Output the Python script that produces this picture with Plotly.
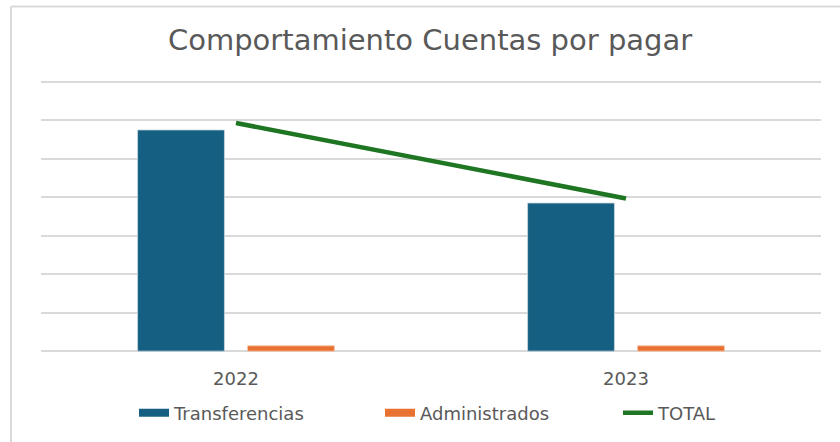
import plotly.graph_objects as go

categories = ["2022", "2023"]
transferencias = [5.75, 3.85]
administrados = [0.14, 0.14]
total = [5.93, 3.97]

W, H = 840, 442
UNIT = 38.5          # px per gridline step
PAD = 0.1            # extra range so edge gridlines are drawn
ml, mr = 41, 19
mt = round(82 - PAD * UNIT)
mb = round(H - (351.5 + PAD * UNIT))
pw = W - ml - mr
ph = H - mt - mb

def px_x(px):
    return (px - ml) / pw

def px_y(py):
    return (H - mb - py) / ph

C_T, C_A, C_TOT = "#156082", "#E97132", "#1E7522"
FONT = "DejaVu Sans"
GREY = "#595959"

fig = go.Figure()
fig.add_trace(go.Bar(x=categories, y=transferencias, name="Transferencias", showlegend=False,
                     marker=dict(color=C_T, line=dict(color="#c9d7e0", width=0.8))))
fig.add_trace(go.Bar(x=categories, y=administrados, name="Administrados", showlegend=False,
                     marker=dict(color=C_A, line=dict(color="#f6c9b0", width=0.8))))
fig.add_trace(go.Scatter(x=categories, y=total, name="TOTAL", mode="lines",
                         line=dict(color=C_TOT, width=4.5), legend="legend3"))
# legend keys for the bar series (wide rectangles like the original)
fig.add_trace(go.Scatter(x=[None], y=[None], name="Transferencias", mode="lines",
                         line=dict(color=C_T, width=8), legend="legend"))
fig.add_trace(go.Scatter(x=[None], y=[None], name="Administrados", mode="lines",
                         line=dict(color=C_A, width=8), legend="legend2"))

leg_common = dict(orientation="h", xanchor="left", yanchor="middle", y=px_y(413),
                  font=dict(family=FONT, size=18, color=GREY), bgcolor="rgba(0,0,0,0)")

fig.update_layout(
    width=W, height=H,
    margin=dict(l=ml, r=mr, t=mt, b=mb, autoexpand=False),
    paper_bgcolor="white", plot_bgcolor="white",
    barmode="group", bargap=0.436, bargroupgap=0.21,
    title=dict(text="Comportamiento Cuentas por pagar", x=0.512, xanchor="center",
               y=1 - 40 / H, yanchor="middle",
               font=dict(family=FONT, size=29, color=GREY)),
    font=dict(family=FONT, color=GREY),
    showlegend=True,
    legend=dict(x=px_x(134), **leg_common),
    legend2=dict(x=px_x(380), **leg_common),
    legend3=dict(x=px_x(618), **leg_common),
    xaxis=dict(range=[-0.5, 1.5], showgrid=False, zeroline=False, showline=False,
               ticks="", ticklabelstandoff=11, tickfont=dict(family=FONT, size=18, color=GREY)),
    yaxis=dict(range=[-PAD, 7 + PAD], dtick=1, tick0=0, showgrid=True, gridcolor="#D9D9D9",
               gridwidth=1.5, showticklabels=False, zeroline=False, showline=False, ticks=""),
    shapes=[
        dict(type="line", xref="paper", yref="paper", x0=px_x(11), x1=px_x(11),
             y0=px_y(6.5), y1=px_y(445), line=dict(color="#D9D9D9", width=2)),
        dict(type="line", xref="paper", yref="paper", x0=px_x(11), x1=px_x(845),
             y0=px_y(6.5), y1=px_y(6.5), line=dict(color="#D9D9D9", width=2)),
    ],
)

fig.write_html("out.html", config={"displayModeBar": False},
               post_script="document.body.style.margin='0';")
